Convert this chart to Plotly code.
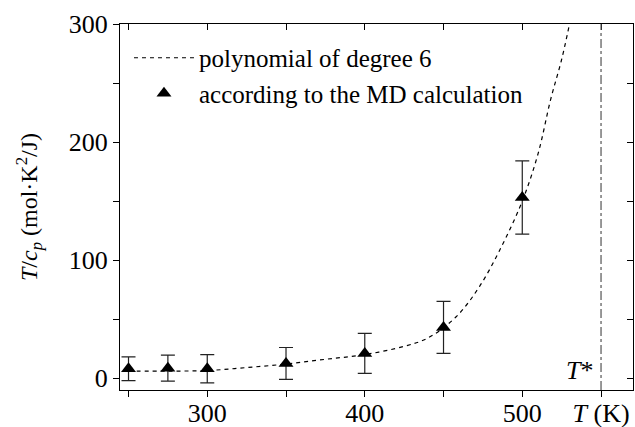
import plotly.graph_objects as go

# MD calculation points
T_md = [250, 275, 300, 350, 400, 450, 500]
Y_md = [8, 8.5, 8, 12.5, 21, 43, 153]
ERR_md = [10, 11, 12, 13.5, 17, 22, 31]

# polynomial of degree 6
T_fit = [250, 275, 300, 325, 350, 375, 400, 425, 440, 458, 473, 487, 500, 510, 518, 525, 530]
Y_fit = [6, 6, 6.5, 9, 12, 16, 20, 27, 34, 52, 78, 112, 150, 190, 236, 270, 300]

T_star = 550

x_tickvals = [250, 300, 350, 400, 450, 500, 550]
x_ticktext = ["", "300", "", "400", "", "500", "<i>T</i> (K)"]
y_tickvals = [0, 50, 100, 150, 200, 250, 300]
y_ticktext = ["0", "", "100", "", "200", "", "300"]

X_RANGE = [244.6, 570.3]
Y_RANGE = [-10, 300]

FONT = "Liberation Serif"
TICKFONT = dict(family=FONT, size=26, color="black")

fig = go.Figure()

fig.add_trace(go.Scatter(
    x=T_fit, y=Y_fit, mode="lines", line_shape="spline",
    line=dict(color="black", width=1.2, dash="4px,4px"),
    name="polynomial of degree 6",
))
fig.add_trace(go.Scatter(
    x=T_md, y=Y_md, mode="markers",
    marker=dict(symbol="triangle-up", size=13, color="black"),
    error_y=dict(type="data", array=ERR_md, visible=True, color="#222", thickness=1.2, width=7),
    name="according to the MD calculation",
))
# dummy trace to activate mirrored axes
fig.add_trace(go.Scatter(x=[None], y=[None], xaxis="x2", yaxis="y2", showlegend=False, hoverinfo="skip"))

fig.add_vline(x=T_star, line=dict(color="#555", width=1.2, dash="dashdot"))
fig.add_annotation(x=T_star, y=0, xref="x", yref="y", text="<i>T</i>*", showarrow=False,
                   xanchor="right", yanchor="middle", xshift=-6, yshift=8,
                   font=dict(family=FONT, size=26, color="black"))

axis_common = dict(showgrid=False, zeroline=False, showline=True, linecolor="black", linewidth=1.2,
                   tickcolor="black", ticklen=6, tickwidth=1.2, automargin=False)

fig.update_layout(
    width=635, height=427,
    margin=dict(l=120, r=2, t=24, b=37),
    paper_bgcolor="white", plot_bgcolor="white",
    font=dict(family=FONT, size=25, color="black"),
    showlegend=True,
    legend=dict(x=0.0175, y=0.97, xanchor="left", yanchor="top", bgcolor="rgba(0,0,0,0)",
                font=dict(family=FONT, size=25, color="black"), tracegroupgap=0, itemwidth=60),
    xaxis=dict(range=X_RANGE, tickmode="array", tickvals=x_tickvals, ticktext=x_ticktext,
               ticks="outside", tickfont=TICKFONT, ticklabelstandoff=-6, **axis_common),
    yaxis=dict(range=Y_RANGE, tickmode="array", tickvals=y_tickvals, ticktext=y_ticktext,
               ticks="outside", tickfont=TICKFONT,
               title=dict(text="<i>T</i>/<i>c</i><sub><i>p</i></sub> (mol·K<sup>2</sup>/J)",
                          font=dict(family=FONT, size=24), standoff=24),
               **axis_common),
    xaxis2=dict(range=X_RANGE, overlaying="x", side="top", tickmode="array", tickvals=x_tickvals,
                showticklabels=False, ticks="inside", anchor="y2", **axis_common),
    yaxis2=dict(range=Y_RANGE, overlaying="y", side="right", tickmode="array", tickvals=y_tickvals,
                showticklabels=False, ticks="inside", anchor="x2", **axis_common),
)

fig.write_html("out.html", post_script="document.body.style.margin='0px';",
               config={"displayModeBar": False})
